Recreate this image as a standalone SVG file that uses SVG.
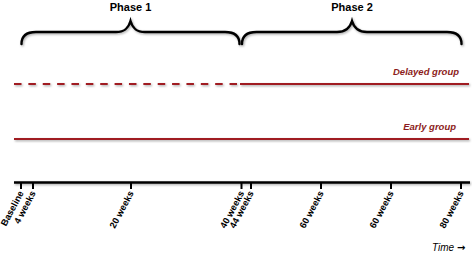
<svg xmlns="http://www.w3.org/2000/svg" width="472" height="253" viewBox="0 0 472 253">
<defs>
<filter id="sh" filterUnits="userSpaceOnUse" x="0" y="0" width="472" height="253">
<feDropShadow dx="1" dy="1.2" stdDeviation="0.8" flood-color="#000" flood-opacity="0.35"/>
</filter>
</defs>
<style>
.brace{fill:none;stroke:#000;stroke-width:2.4;stroke-linecap:round;filter:url(#sh)}
.phase{font-family:"Liberation Sans",Arial,sans-serif;font-weight:bold;font-size:11px;fill:#000;text-anchor:middle}
.grp{fill:none;stroke:#a01c22;stroke-width:2;filter:url(#sh)}
.glab{font-family:"Liberation Sans",Arial,sans-serif;font-weight:bold;font-style:italic;font-size:9.5px;fill:#8c1c20;text-anchor:end}
.axis{fill:none;stroke:#000;stroke-width:2.4;filter:url(#sh)}
.tick{fill:none;stroke:#000;stroke-width:2}
.tlab{font-family:"Liberation Sans",Arial,sans-serif;font-weight:bold;font-size:9.3px;fill:#000;text-anchor:end}
.time{font-family:"Liberation Sans",Arial,sans-serif;font-style:italic;font-size:10px;fill:#000}
.arr{font-family:"DejaVu Sans",sans-serif;font-style:normal;font-weight:bold;font-size:10px}
</style>
<g id="phase1">
<path class="brace" d="M21.5,44 C21.5,36 26,32 36,32 L116,32 C125,32 128.5,28 130.5,21 C132.5,28 136,32 145,32 L225,32 C235,32 239.5,36 239.5,44"/>
<text class="phase" x="130.5" y="11">Phase 1</text>
</g>
<g id="phase2">
<path class="brace" d="M242,44 C242,36 246.5,32 256.5,32 L337,32 C346,32 350,28 352,21 C354,28 358,32 367,32 L447,32 C457,32 461.5,36 461.5,44"/>
<text class="phase" x="352" y="11">Phase 2</text>
</g>
<g id="delayed">
<line class="grp" x1="14" y1="84" x2="237" y2="84" stroke-dasharray="7.5 6.87"/>
<line class="grp" x1="240" y1="84" x2="469" y2="84"/>
<text class="glab" x="459" y="75">Delayed group</text>
</g>
<g id="early">
<line class="grp" x1="14" y1="139" x2="469" y2="139"/>
<text class="glab" x="456" y="130">Early group</text>
</g>
<g id="axis">
<line class="axis" x1="14" y1="182.5" x2="470" y2="182.5"/>
<g class="ticks">
<line class="tick" x1="21" y1="182" x2="21" y2="189"/>
<line class="tick" x1="33" y1="182" x2="33" y2="189"/>
<line class="tick" x1="131" y1="182" x2="131" y2="189"/>
<line class="tick" x1="241.5" y1="182" x2="241.5" y2="189"/>
<line class="tick" x1="251" y1="182" x2="251" y2="189"/>
<line class="tick" x1="321" y1="182" x2="321" y2="189"/>
<line class="tick" x1="391" y1="182" x2="391" y2="189"/>
<line class="tick" x1="461" y1="182" x2="461" y2="189"/>
</g>
<text class="tlab" transform="translate(24,193) rotate(-62)">Baseline</text>
<text class="tlab" transform="translate(36,193) rotate(-62)">4 weeks</text>
<text class="tlab" transform="translate(134,193) rotate(-62)">20 weeks</text>
<text class="tlab" transform="translate(244.5,193) rotate(-62)">40 weeks</text>
<text class="tlab" transform="translate(254,193) rotate(-62)">44 weeks</text>
<text class="tlab" transform="translate(324,193) rotate(-62)">60 weeks</text>
<text class="tlab" transform="translate(394,193) rotate(-62)">60 weeks</text>
<text class="tlab" transform="translate(464,193) rotate(-62)">80 weeks</text>
<text class="time" x="432" y="250.5">Time <tspan class="arr">→</tspan></text>
</g>
</svg>
